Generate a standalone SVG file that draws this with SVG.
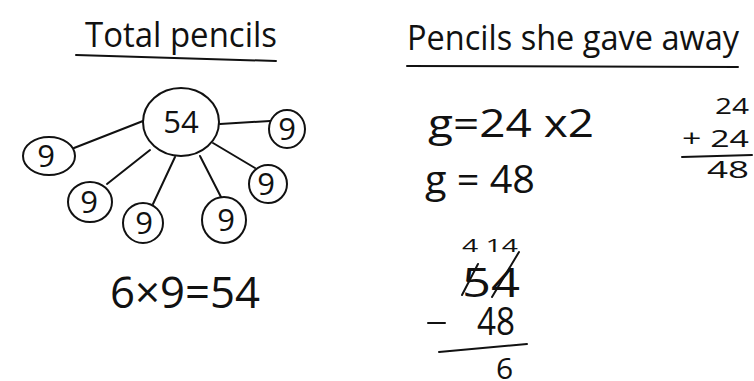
<svg xmlns="http://www.w3.org/2000/svg" width="754" height="381" viewBox="0 0 754 381">
<style>
.t{font-family:"Open Sans","DejaVu Sans",sans-serif;font-weight:400;fill:#111}
.s{stroke:#111;stroke-width:2;fill:none;stroke-linecap:round}
.n{stroke:#111;stroke-width:2;fill:#fff}
</style>
<rect width="754" height="381" fill="#fff"/>
<g id="title-left">
<text class="t" x="85" y="47" font-size="34" textLength="192" lengthAdjust="spacingAndGlyphs">Total pencils</text>
<path class="s" d="M76 55 L276 61"/>
</g>
<g id="connectors">
<path class="s" d="M220 124 L270 121"/>
<path class="s" d="M143 121 L74 148"/>
<path class="s" d="M150 150 L107 184"/>
<path class="s" d="M175 157 L153 204"/>
<path class="s" d="M200 156 L222 199"/>
<path class="s" d="M213 143 L255 168"/>
</g>
<g id="n54"><ellipse class="n" cx="181" cy="122" rx="38" ry="34"/><text class="t" x="181" y="133" font-size="31" text-anchor="middle">54</text></g>
<g id="n9a"><ellipse class="n" cx="287" cy="129" rx="18" ry="19"/><text class="t" x="287" y="140" font-size="31" text-anchor="middle">9</text></g>
<g id="n9b"><ellipse class="n" cx="49" cy="156" rx="26" ry="19"/><text class="t" x="46" y="167" font-size="31" text-anchor="middle">9</text></g>
<g id="n9c"><ellipse class="n" cx="90" cy="202" rx="22" ry="20"/><text class="t" x="89" y="213" font-size="31" text-anchor="middle">9</text></g>
<g id="n9d"><ellipse class="n" cx="143" cy="223" rx="20" ry="20"/><text class="t" x="144" y="234" font-size="31" text-anchor="middle">9</text></g>
<g id="n9e"><ellipse class="n" cx="224" cy="220" rx="22" ry="23"/><text class="t" x="226" y="231" font-size="31" text-anchor="middle">9</text></g>
<g id="n9f"><ellipse class="n" cx="268" cy="184" rx="19" ry="19"/><text class="t" x="266" y="195" font-size="31" text-anchor="middle">9</text></g>
<text class="t" x="110" y="308" font-size="43" textLength="150" lengthAdjust="spacingAndGlyphs">6×9=54</text>
<g id="title-right">
<text class="t" x="407" y="50" font-size="34" textLength="332" lengthAdjust="spacingAndGlyphs">Pencils she gave away</text>
<path class="s" d="M407 66 L738 67"/>
</g>
<text class="t" x="428" y="137" font-size="38" textLength="166" lengthAdjust="spacingAndGlyphs">g=24 x2</text>
<text class="t" x="425" y="193" font-size="38" textLength="110" lengthAdjust="spacingAndGlyphs">g = 48</text>
<g id="addition">
<text class="t" x="749" y="114" font-size="21" text-anchor="end" textLength="34" lengthAdjust="spacingAndGlyphs">24</text>
<text class="t" x="749" y="147" font-size="24" text-anchor="end" textLength="67" lengthAdjust="spacingAndGlyphs">+ 24</text>
<path class="s" d="M682 157 L752 155"/>
<text class="t" x="749" y="178" font-size="24" text-anchor="end" textLength="42" lengthAdjust="spacingAndGlyphs">48</text>
</g>
<g id="subtraction">
<text class="t" x="462" y="252" font-size="19" textLength="56" lengthAdjust="spacingAndGlyphs">4 14</text>
<text class="t" x="462" y="297" font-size="40" textLength="58" lengthAdjust="spacingAndGlyphs">54</text>
<path class="s" d="M462 295 L478 264"/>
<path class="s" d="M492 297 L519 252"/>
<path class="s" d="M428 323 L445 323"/>
<text class="t" x="477" y="335" font-size="38" textLength="38" lengthAdjust="spacingAndGlyphs">48</text>
<path class="s" d="M439 352 L527 344"/>
<text class="t" x="496" y="379" font-size="30">6</text>
</g>
</svg>
